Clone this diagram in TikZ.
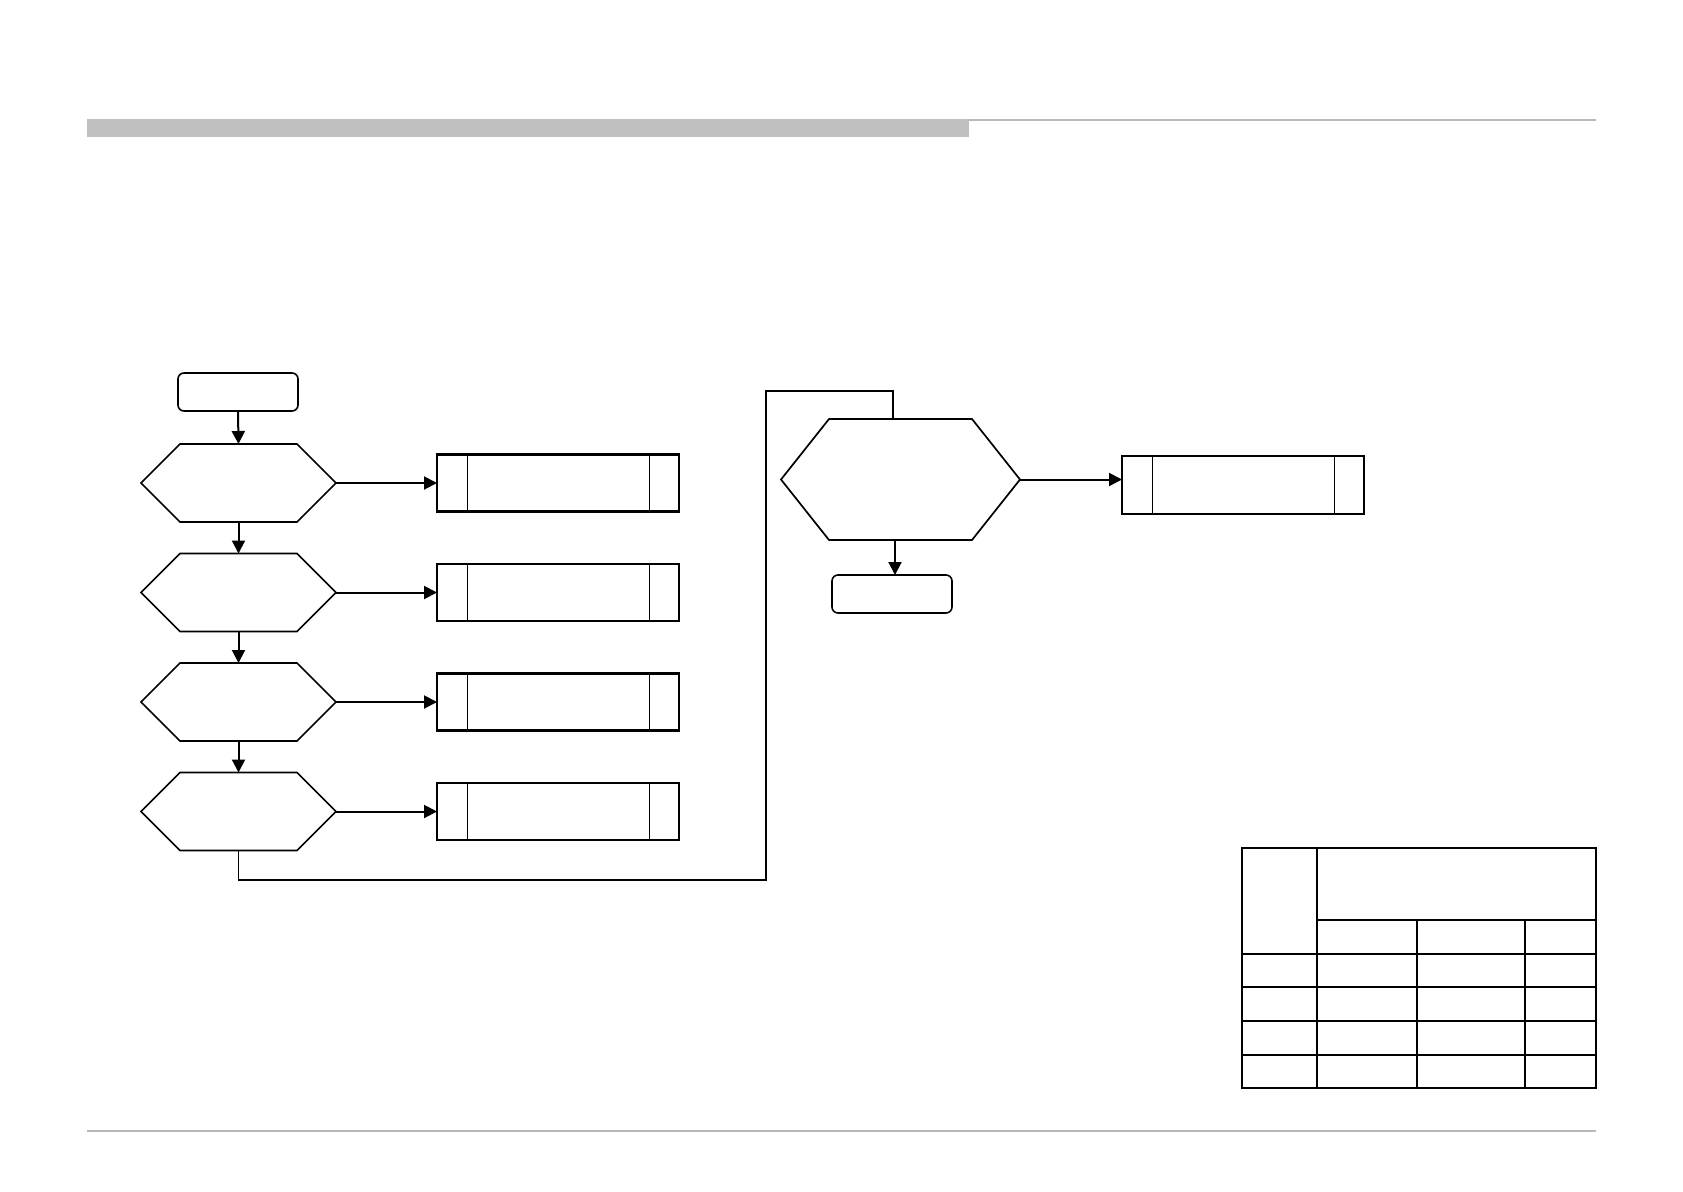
\documentclass[tikz,border=0pt]{standalone}
\usetikzlibrary{arrows.meta,calc}
\definecolor{barGray}{HTML}{C0C0C0}
\definecolor{lineGray}{HTML}{B8B8B8}
\tikzset{
  blk/.style={draw=none,inner sep=0pt,outer sep=0pt},
  hexline/.style={draw=black,line width=1.7pt,line join=miter},
  procbox/.style={draw=black,line width=2.2pt,inner sep=0pt,outer sep=0pt,minimum width=242pt,minimum height=57pt},
  termbox/.style={draw=black,line width=1.6pt,rounded corners=6pt,inner sep=0pt,outer sep=0pt,minimum width=120pt,minimum height=38pt},
  flow/.style={line width=2pt,-{Triangle[length=13pt,width=13pt]}},
  loopline/.style={line width=1.7pt},
  tab/.style={line width=2.5pt}
}
\newcommand\hexdraw[2]{\draw[hexline] (#1.west) -- ($(#1.north west)+(#2,0)$) -- ($(#1.north east)+(-#2,0)$) -- (#1.east) -- ($(#1.south east)+(-#2,0)$) -- ($(#1.south west)+(#2,0)$) -- cycle;}
\newcommand\procinner[1]{\draw[line width=1pt] ($(#1.north west)+(30,0)$) -- ($(#1.south west)+(30,0)$); \draw[line width=1pt] ($(#1.north east)+(-30,0)$) -- ($(#1.south east)+(-30,0)$);}
\begin{document}
\begin{tikzpicture}[x=1pt,y=-1pt]
\useasboundingbox (0,0) rectangle (1683,1191);
% header and footer
\fill[barGray] (87,119) rectangle (969,137);
\draw[lineGray,line width=2.5pt] (969,120) -- (1596,120);
\draw[lineGray,line width=2pt] (87,1131) -- (1596,1131);

% start
\node[termbox] (st) at (238,392) {};
% hexagons
\node[blk,minimum width=195pt,minimum height=78pt] (h1) at (238.5,483) {};
\node[blk,minimum width=195pt,minimum height=78pt] (h2) at (238.5,592.5) {};
\node[blk,minimum width=195pt,minimum height=78pt] (h3) at (238.5,702) {};
\node[blk,minimum width=195pt,minimum height=78pt] (h4) at (238.5,811.5) {};
\hexdraw{h1}{39}\hexdraw{h2}{39}\hexdraw{h3}{39}\hexdraw{h4}{39}
% process boxes
\node[procbox] (p1) at (558,483) {};
\node[procbox] (p2) at (558,592.5) {};
\node[procbox] (p3) at (558,702) {};
\node[procbox] (p4) at (558,811.5) {};
\procinner{p1}\procinner{p2}\procinner{p3}\procinner{p4}

% big hexagon
\node[blk,minimum width=239pt,minimum height=121pt] (bh) at (900.5,479.5) {};
\hexdraw{bh}{48}
\node[procbox,minimum height=58pt] (pr) at (1243,485) {};
\procinner{pr}
\node[termbox] (en) at (892,594) {};

% connectors
\draw[flow] (st.south) -- (h1.north);
\draw[flow] (h1.south) -- (h2.north);
\draw[flow] (h2.south) -- (h3.north);
\draw[flow] (h3.south) -- (h4.north);
\draw[flow] (h1.east) -- (p1.west);
\draw[flow] (h2.east) -- (p2.west);
\draw[flow] (h3.east) -- (p3.west);
\draw[flow] (h4.east) -- (p4.west);
\coordinate (lA) at (238.5,880);
\coordinate (lB) at (766,880);
\coordinate (lC) at (766,391);
\coordinate (lD) at (893,391);
\draw[loopline] (h4.south) -- (lA) -- (lB) -- (lC) -- (lD) -- (lD |- bh.north);
\draw[flow] (bh.east) -- (bh.east -| pr.west);
\draw[flow] (en.north |- bh.south) ++(3,0) -- ($(en.north)+(3,0)$);

% table
\draw[tab] (1242,848) rectangle (1596,1088);
\draw[tab] (1317,848) -- (1317,1088);
\draw[tab] (1317,920) -- (1596,920);
\foreach \yy in {954,987,1021,1055} \draw[tab] (1242,\yy) -- (1596,\yy);
\draw[tab] (1417,920) -- (1417,1088);
\draw[tab] (1525,920) -- (1525,1088);
\end{tikzpicture}
\end{document}
